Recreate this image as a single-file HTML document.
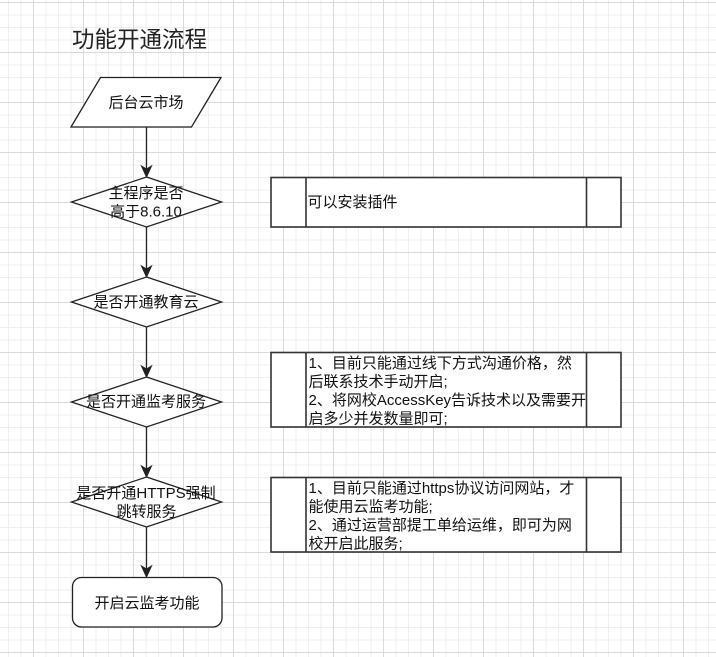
<!DOCTYPE html>
<html>
<head>
<meta charset="utf-8">
<style>
html,body{margin:0;padding:0;background:#fff;}
body{width:716px;height:657px;overflow:hidden;}
svg{display:block;}
text{font-family:"Liberation Sans","Noto Sans CJK SC",sans-serif;fill:#111;}
</style>
</head>
<body>
<svg width="716" height="657" viewBox="0 0 716 657" xmlns="http://www.w3.org/2000/svg">
<defs>
<pattern id="grid" patternUnits="userSpaceOnUse" x="33" y="2" width="50" height="50">
<rect x="12.5" y="0" width="1" height="50" fill="#efefef"/>
<rect x="25" y="0" width="1" height="50" fill="#efefef"/>
<rect x="37.5" y="0" width="1" height="50" fill="#efefef"/>
<rect x="0" y="12.5" width="50" height="1" fill="#efefef"/>
<rect x="0" y="25" width="50" height="1" fill="#efefef"/>
<rect x="0" y="37.5" width="50" height="1" fill="#efefef"/>
<rect x="0" y="0" width="1" height="50" fill="#dadada"/>
<rect x="0" y="0" width="50" height="1" fill="#dadada"/>
</pattern>
</defs>
<rect x="0" y="0" width="716" height="657" fill="#fff"/>
<rect x="0" y="0" width="716" height="657" fill="url(#grid)"/>

<!-- Title -->
<text x="72" y="40" font-size="22.5" dominant-baseline="central" style="fill:#222">功能开通流程</text>

<g stroke="#222" stroke-width="1.3" fill="none">
<!-- connectors -->
<line x1="146.5" y1="127" x2="146.5" y2="170"/>
<line x1="146.5" y1="227" x2="146.5" y2="270"/>
<line x1="146.5" y1="327" x2="146.5" y2="370"/>
<line x1="146.5" y1="427" x2="146.5" y2="470"/>
<line x1="146.5" y1="527" x2="146.5" y2="570"/>
</g>
<g fill="#222" stroke="#222" stroke-width="1">
<path d="M146.5 177 L141.5 166 L146.5 169 L151.5 166 Z"/>
<path d="M146.5 277 L141.5 266 L146.5 269 L151.5 266 Z"/>
<path d="M146.5 377 L141.5 366 L146.5 369 L151.5 366 Z"/>
<path d="M146.5 477 L141.5 466 L146.5 469 L151.5 466 Z"/>
<path d="M146.5 577 L141.5 566 L146.5 569 L151.5 566 Z"/>
</g>

<g stroke="#222" stroke-width="1.3" fill="#fff">
<!-- parallelogram -->
<polygon points="100.5,77.5 221,77.5 191.5,127 71,127"/>
<!-- diamonds -->
<polygon points="146.5,177 221.5,202 146.5,227 71.5,202"/>
<polygon points="146.5,277 221.5,302 146.5,327 71.5,302"/>
<polygon points="146.5,377 221.5,402 146.5,427 71.5,402"/>
<polygon points="146.5,477 221.5,502 146.5,527 71.5,502"/>
<!-- rounded rect -->
<rect x="72.5" y="577.5" width="149.5" height="49.5" rx="9" ry="9"/>
</g>

<g stroke="#333" stroke-width="1.6" fill="#fff">
<rect x="271" y="177.5" width="350" height="49.5"/>
<line x1="306" y1="177.5" x2="306" y2="227"/>
<line x1="586.5" y1="177.5" x2="586.5" y2="227"/>
<rect x="271" y="352.5" width="350" height="74.5"/>
<line x1="306" y1="352.5" x2="306" y2="427"/>
<line x1="586.5" y1="352.5" x2="586.5" y2="427"/>
<rect x="271" y="477.5" width="350" height="74.5"/>
<line x1="306" y1="477.5" x2="306" y2="552"/>
<line x1="586.5" y1="477.5" x2="586.5" y2="552"/>
</g>

<g font-size="15" dominant-baseline="central">
<text x="146" y="103" text-anchor="middle">后台云市场</text>
<text x="146" y="193.5" text-anchor="middle">主程序是否</text>
<text x="146" y="212" text-anchor="middle">高于8.6.10</text>
<text x="146" y="302.5" text-anchor="middle">是否开通教育云</text>
<text x="146" y="402" text-anchor="middle">是否开通监考服务</text>
<text x="146" y="493.5" text-anchor="middle">是否开通HTTPS强制</text>
<text x="146.5" y="512" text-anchor="middle">跳转服务</text>
<text x="147" y="603.5" text-anchor="middle">开启云监考功能</text>

<text x="307.5" y="202.5">可以安装插件</text>

<text x="308.5" y="363.5">1、目前只能通过线下方式沟通价格，然</text>
<text x="308.5" y="382">后联系技术手动开启;</text>
<text x="308.5" y="400.5">2、将网校AccessKey告诉技术以及需要开</text>
<text x="308.5" y="419">启多少并发数量即可;</text>

<text x="308.5" y="488.5">1、目前只能通过https协议访问网站，才</text>
<text x="308.5" y="507">能使用云监考功能;</text>
<text x="308.5" y="525.5">2、通过运营部提工单给运维，即可为网</text>
<text x="308.5" y="544">校开启此服务;</text>
</g>
</svg>
</body>
</html>
